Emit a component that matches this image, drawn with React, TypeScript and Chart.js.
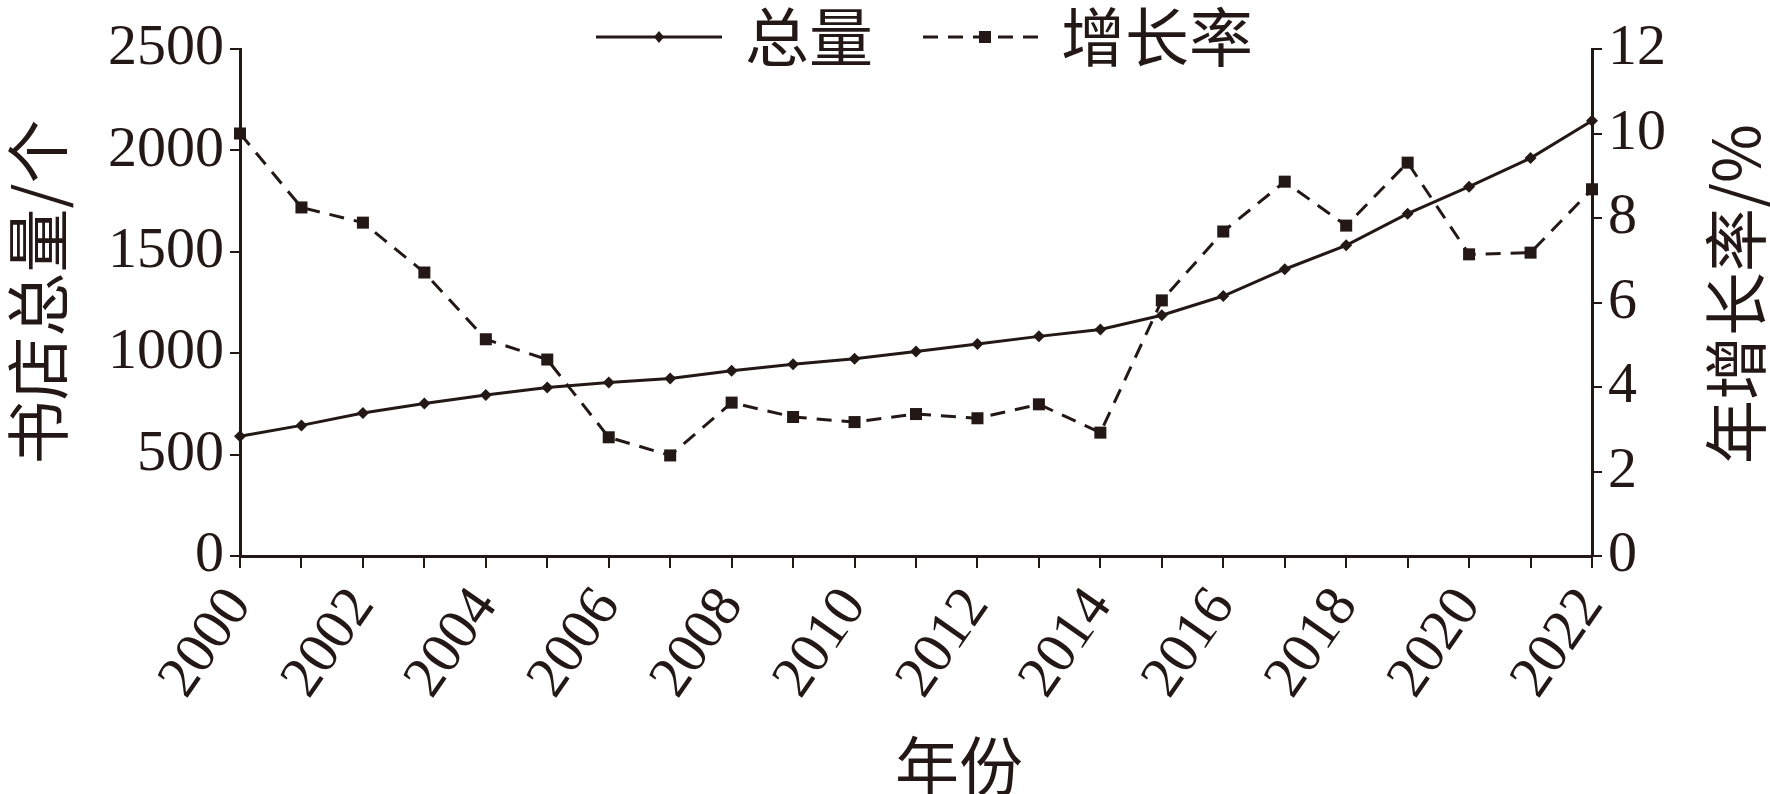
import React, { useEffect, useRef } from 'react';
import { Chart, registerables } from 'chart.js';

Chart.register(...registerables);

const years = ['2000','2001','2002','2003','2004','2005','2006','2007','2008','2009','2010','2011','2012','2013','2014','2015','2016','2017','2018','2019','2020','2021','2022'];
const totalStores = [590, 644, 705, 752, 794, 831, 856, 875, 913, 945, 973, 1008, 1045, 1083, 1117, 1187, 1282, 1414, 1532, 1688, 1821, 1962, 2146];
const growthRate = [10.0, 8.25, 7.89, 6.71, 5.13, 4.65, 2.81, 2.38, 3.63, 3.29, 3.17, 3.36, 3.26, 3.59, 2.92, 6.05, 7.68, 8.86, 7.82, 9.31, 7.14, 7.18, 8.68];
const leftMax = 2500;
const leftStep = 500;
const rightMax = 12;
const rightStep = 2;
const seriesNames = ['总量', '增长率'];
const leftTitle = '书店总量/个';
const rightTitle = '年增长率/%';
const xTitle = '年份';

const INK = '#231815';
const NUM_FONT = '"Liberation Serif", "DejaVu Serif", serif';
const CJK_FONT = '"Noto Sans CJK SC", sans-serif';

const overlayPlugin = {
  id: 'overlay',
  afterDraw(chart: any) {
    const ctx = chart.ctx;
    ctx.save();
    ctx.fillStyle = INK;
    ctx.strokeStyle = INK;
    // legend
    const ly = 37;
    ctx.lineWidth = 3;
    ctx.setLineDash([]);
    ctx.beginPath();
    ctx.moveTo(596, ly);
    ctx.lineTo(722, ly);
    ctx.stroke();
    ctx.beginPath();
    ctx.moveTo(659, ly - 6);
    ctx.lineTo(664, ly);
    ctx.lineTo(659, ly + 6);
    ctx.lineTo(654, ly);
    ctx.closePath();
    ctx.fill();
    ctx.lineWidth = 3;
    ctx.setLineDash([15, 10]);
    ctx.beginPath();
    ctx.moveTo(923, ly);
    ctx.lineTo(1041, ly);
    ctx.stroke();
    ctx.setLineDash([]);
    ctx.fillRect(979, ly - 6, 12, 12);
    ctx.font = `64px ${CJK_FONT}`;
    ctx.textBaseline = 'middle';
    ctx.textAlign = 'left';
    ctx.fillText(seriesNames[0], 745, ly);
    ctx.fillText(seriesNames[1], 1061, ly);
    // x title
    ctx.textAlign = 'center';
    ctx.fillText(xTitle, 959, 766);
    // left title
    ctx.save();
    ctx.translate(38, 292);
    ctx.rotate(-Math.PI / 2);
    ctx.fillText(leftTitle, 0, 0);
    ctx.restore();
    // right title
    ctx.save();
    ctx.translate(1736, 294);
    ctx.rotate(-Math.PI / 2);
    ctx.fillText(rightTitle, 0, 0);
    ctx.restore();
    ctx.restore();
  },
};

export default function App() {
  const ref = useRef<HTMLCanvasElement | null>(null);
  useEffect(() => {
    if (!ref.current) return;
    const tickFont = { family: NUM_FONT, size: 58 };
    const chart = new Chart(ref.current, {
      type: 'line',
      data: {
        labels: years,
        datasets: [
          {
            label: seriesNames[0],
            data: totalStores,
            yAxisID: 'y',
            borderColor: INK,
            backgroundColor: INK,
            borderWidth: 3,
            pointStyle: 'rectRot',
            pointRadius: 6,
            pointBorderWidth: 0,
            tension: 0,
            clip: false,
          },
          {
            label: seriesNames[1],
            data: growthRate,
            yAxisID: 'y1',
            borderColor: INK,
            backgroundColor: INK,
            borderWidth: 3,
            borderDash: [15, 10],
            pointStyle: 'rect',
            pointRadius: 8.5,
            pointBorderWidth: 0,
            tension: 0,
            clip: false,
          },
        ],
      },
      options: {
        animation: false,
        responsive: true,
        maintainAspectRatio: false,
        layout: { padding: { top: 49, left: 0, right: 0, bottom: 0 } },
        plugins: { legend: { display: false }, tooltip: { enabled: false } },
        scales: {
          x: {
            type: 'category',
            offset: false,
            grid: { display: true, drawOnChartArea: false, drawTicks: true, tickLength: 12, color: INK, lineWidth: 2 },
            border: { display: true, color: INK, width: 3 },
            ticks: {
              autoSkip: false,
              maxRotation: 55,
              minRotation: 55,
              padding: 8,
              color: INK,
              font: tickFont,
              callback: (_v: any, i: number) => (i % 2 === 0 ? years[i] : ''),
            },
            afterFit: (s: any) => { s.height = 238; },
          },
          y: {
            type: 'linear',
            position: 'left',
            min: 0,
            max: leftMax,
            grid: { display: true, drawOnChartArea: false, drawTicks: true, tickLength: 10, color: INK, lineWidth: 2 },
            border: { display: true, color: INK, width: 3 },
            ticks: { stepSize: leftStep, color: INK, font: tickFont, padding: 6, callback: (v: any) => String(v) },
            afterFit: (s: any) => { s.width = 240; },
          },
          y1: {
            type: 'linear',
            position: 'right',
            min: 0,
            max: rightMax,
            grid: { display: true, drawOnChartArea: false, drawTicks: true, tickLength: 10, color: INK, lineWidth: 2 },
            border: { display: true, color: INK, width: 3 },
            ticks: { stepSize: rightStep, color: INK, font: tickFont, padding: 6, callback: (v: any) => String(v) },
            afterFit: (s: any) => { s.width = 178; },
          },
        },
      },
      plugins: [overlayPlugin],
    } as any);
    return () => chart.destroy();
  }, []);
  return (
    <div style={{ position: 'absolute', left: 0, top: 0, width: 1770, height: 794, background: '#fff' }}>
      <canvas ref={ref} />
    </div>
  );
}
